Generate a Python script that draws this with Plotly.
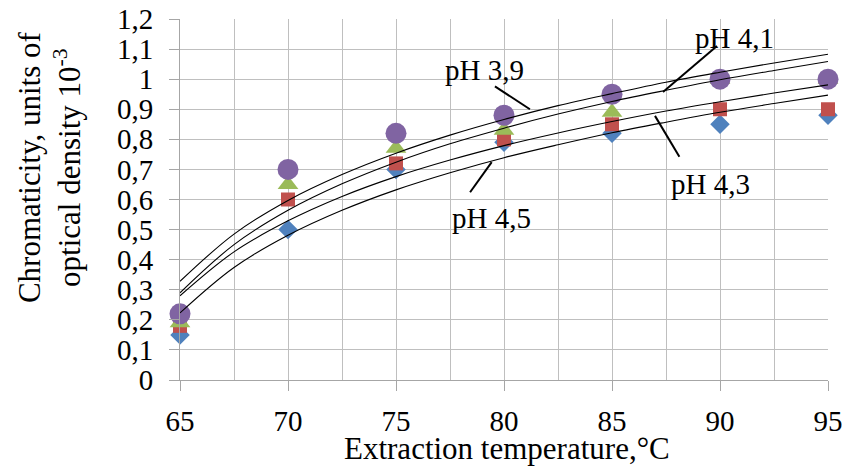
import plotly.graph_objects as go

# ---- data ----
temperature = [65, 70, 75, 80, 85, 90, 95]
ph45_diamond = [0.15, 0.50, 0.70, 0.79, 0.82, 0.85, 0.88]
ph43_square = [0.18, 0.60, 0.72, 0.80, 0.85, 0.90, 0.90]
ph41_triangle = [0.19, 0.65, 0.77, 0.83, 0.89, 1.00, 1.00]
ph39_circle = [0.22, 0.70, 0.82, 0.88, 0.95, 1.00, 1.00]

# trend curves read at every vertical gridline
curve_x = [65, 67.5, 70, 72.5, 75, 77.5, 80, 82.5, 85, 87.5, 90, 92.5, 95]
curve_ph39 = [0.328, 0.485, 0.597, 0.683, 0.754, 0.814, 0.866, 0.912, 0.952, 0.990, 1.023, 1.054, 1.083]
curve_ph41 = [0.290, 0.450, 0.564, 0.652, 0.724, 0.785, 0.837, 0.884, 0.926, 0.963, 0.998, 1.029, 1.059]
curve_ph43 = [0.280, 0.426, 0.529, 0.610, 0.676, 0.731, 0.779, 0.821, 0.859, 0.894, 0.925, 0.954, 0.981]
curve_ph45 = [0.223, 0.374, 0.481, 0.564, 0.632, 0.689, 0.739, 0.782, 0.822, 0.857, 0.890, 0.919, 0.947]

labels = ["pH 3,9", "pH 4,1", "pH 4,3", "pH 4,5"]
x_ticks = [65, 70, 75, 80, 85, 90, 95]

FONT = "Liberation Serif, Times New Roman, serif"
GRID = "#BFBFBF"

fig = go.Figure()

marker_series = [
    (ph45_diamond, "diamond", "#4F81BD", 15),
    (ph43_square, "square", "#C0504D", 14),
    (ph41_triangle, "triangle-up", "#9BBB59", 18),
    (ph39_circle, "circle", "#8064A2", 21),
]
for vals, sym, col, sz in marker_series:
    fig.add_trace(go.Scatter(x=temperature, y=vals, mode="markers",
                             marker=dict(symbol=sym, color=col, size=sz, line=dict(width=0)),
                             showlegend=False, cliponaxis=False))

for cv in [curve_ph39, curve_ph41, curve_ph43, curve_ph45]:
    fig.add_trace(go.Scatter(x=curve_x, y=cv, mode="lines",
                             line=dict(color="black", width=1.1, shape="spline", smoothing=1.0),
                             showlegend=False))

# callout labels and leader lines
callouts = [
    (labels[0], (79.12, 1.03), (79.58, 0.976), (81.2, 0.90)),
    (labels[1], (90.69, 1.137), (89.86, 1.11), (87.36, 0.957)),
    (labels[2], (89.54, 0.653), (86.99, 0.878), (88.12, 0.742)),
    (labels[3], (79.42, 0.54), (78.43, 0.624), (79.43, 0.724)),
]
for txt, (tx, ty), (x0, y0), (x1, y1) in callouts:
    fig.add_shape(type="line", x0=x0, y0=y0, x1=x1, y1=y1, xref="x", yref="y",
                  line=dict(color="black", width=2))
    fig.add_annotation(x=tx, y=ty, xref="x", yref="y", text=txt, showarrow=False,
                       font=dict(family=FONT, size=29, color="black"),
                       xanchor="center", yanchor="middle")

fig.add_annotation(xref="paper", yref="paper", x=-0.202, y=0.59,
                   text="Chromaticity, units of<br>optical density 10<sup>-3</sup>",
                   textangle=-90, showarrow=False, align="center",
                   font=dict(family=FONT, size=31, color="black"),
                   xanchor="center", yanchor="middle")
fig.add_annotation(xref="paper", yref="paper", x=0.505, y=-0.191,
                   text="Extraction temperature,°C", showarrow=False,
                   font=dict(family=FONT, size=31, color="black"),
                   xanchor="center", yanchor="middle")

fig.update_xaxes(range=[65, 95], tickmode="array", tickvals=x_ticks,
                 ticktext=[str(v) for v in x_ticks], automargin=False,
                 ticklabeloverflow="allow",
                 showgrid=True, gridcolor=GRID, gridwidth=1,
                 minor=dict(dtick=2.5, tick0=65, showgrid=True, gridcolor=GRID, gridwidth=1, ticks=""),
                 showline=True, linecolor="#A6A6A6", linewidth=1,
                 ticks="outside", ticklen=10, tickcolor="#A6A6A6",
                 ticklabelstandoff=5,
                 tickfont=dict(family=FONT, size=29, color="black"), zeroline=False)
fig.update_yaxes(range=[0, 1.2], dtick=0.1, tick0=0, automargin=False,
                 ticklabeloverflow="allow",
                 showgrid=True, gridcolor=GRID, gridwidth=1,
                 showline=True, linecolor="#A6A6A6", linewidth=1,
                 ticks="outside", ticklen=10, tickcolor="#A6A6A6",
                 ticklabelstandoff=10,
                 tickfont=dict(family=FONT, size=29, color="black"), zeroline=False)

fig.update_layout(width=845, height=466, separators=", ",
                  margin=dict(l=180, r=17, t=19, b=86, autoexpand=False),
                  paper_bgcolor="white", plot_bgcolor="white",
                  showlegend=False)

# remove the browser's default body margin so the figure fills the window exactly
fig.write_html("out.html", config={"displayModeBar": False},
               post_script="document.body.style.margin='0';document.body.style.overflow='hidden';")
